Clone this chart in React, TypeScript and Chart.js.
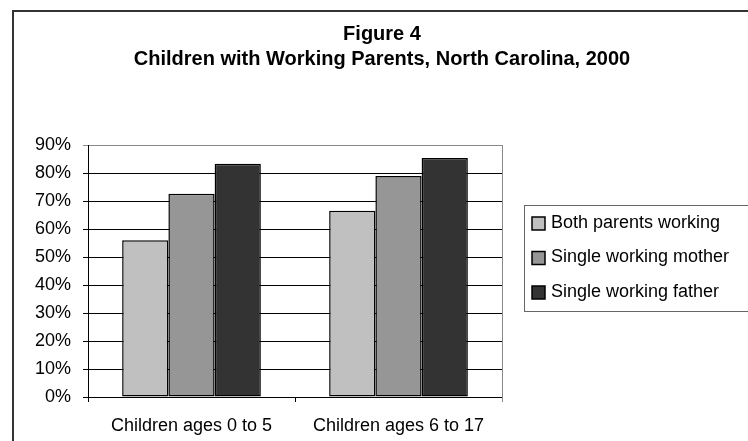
import React, { useEffect, useRef } from 'react';
import { Chart, registerables } from 'chart.js';

Chart.register(...registerables);

const titleLines = ['Figure 4', 'Children with Working Parents, North Carolina, 2000'];
const categories = ['Children ages 0 to 5', 'Children ages 6 to 17'];
const seriesNames = ['Both parents working', 'Single working mother', 'Single working father'];
const bothParents = [56, 66.5];
const singleMother = [72.6, 78.9];
const singleFather = [83.3, 85.4];
const seriesColors = ['#c0c0c0', '#969696', '#333333'];
const yMax = 90;
const yStep = 10;

const FONT = '"Liberation Sans", Arial, Helvetica, sans-serif';

const decorations = {
  id: 'decorations',
  beforeDraw(chart: any) {
    const ctx = chart.ctx;
    ctx.save();
    ctx.fillStyle = '#ffffff';
    ctx.fillRect(0, 0, chart.width, chart.height);
    ctx.strokeStyle = '#333333';
    ctx.lineWidth = 2;
    ctx.strokeRect(13, 11, chart.width + 10, chart.height + 10);
    ctx.restore();
  },
  afterDraw(chart: any) {
    const ctx = chart.ctx;
    const area = chart.chartArea;
    ctx.save();
    // plot area right border
    ctx.strokeStyle = '#8a8a8a';
    ctx.lineWidth = 1;
    ctx.beginPath();
    ctx.moveTo(Math.round(area.right) + 0.5, area.top);
    ctx.lineTo(Math.round(area.right) + 0.5, area.bottom + 5);
    ctx.stroke();

    // title
    ctx.fillStyle = '#000';
    ctx.textAlign = 'center';
    ctx.textBaseline = 'alphabetic';
    ctx.font = `bold 20px ${FONT}`;
    ctx.fillText(titleLines[0], 382, 40);
    ctx.fillText(titleLines[1], 382, 65);

    // legend
    ctx.strokeStyle = '#666666';
    ctx.lineWidth = 1;
    ctx.strokeRect(524.5, 205.5, 240, 106);
    ctx.font = `18px ${FONT}`;
    ctx.textAlign = 'left';
    ctx.textBaseline = 'middle';
    chart.data.datasets.forEach((ds: any, i: number) => {
      const cy = 223 + i * 34.5;
      ctx.fillStyle = ds.backgroundColor;
      ctx.fillRect(532, cy - 6, 13, 13);
      ctx.strokeStyle = '#000';
      ctx.lineWidth = 1.5;
      ctx.strokeRect(532, cy - 6, 13, 13);
      ctx.fillStyle = '#000';
      ctx.fillText(ds.label, 551, cy);
    });
    ctx.restore();
  },
};

export default function App() {
  const ref = useRef<HTMLCanvasElement>(null);
  useEffect(() => {
    if (!ref.current) return;
    const values = [bothParents, singleMother, singleFather];
    const chart = new Chart(ref.current, {
      type: 'bar',
      data: {
        labels: categories,
        datasets: seriesNames.map((name, i) => ({
          label: name,
          data: values[i],
          backgroundColor: seriesColors[i],
          borderColor: '#000000',
          borderWidth: 1.5,
          borderSkipped: false,
          categoryPercentage: 0.67,
          barPercentage: 1.0,
        })),
      },
      options: {
        animation: false,
        responsive: false,
        devicePixelRatio: 1,
        layout: { padding: { top: 145, left: 0, right: 246, bottom: 0 } },
        plugins: {
          legend: { display: false },
          title: { display: false },
          tooltip: { enabled: false },
        },
        scales: {
          x: {
            grid: {
              display: true,
              offset: true,
              drawOnChartArea: false,
              drawTicks: true,
              tickLength: 5,
              color: '#000000',
            },
            border: { color: '#000000', width: 1 },
            ticks: {
              color: '#000000',
              font: { family: FONT, size: 18 },
              padding: 13,
              maxRotation: 0,
              autoSkip: false,
            },
            afterFit: (s: any) => {
              s.height = 44;
            },
          },
          y: {
            min: 0,
            max: yMax,
            ticks: {
              stepSize: yStep,
              color: '#000000',
              font: { family: FONT, size: 18 },
              padding: 12,
              callback: (v: any) => `${v}%`,
            },
            grid: {
              color: (c: any) => (c.tick && c.tick.value === yMax ? '#8a8a8a' : '#000000'),
              tickLength: 5,
              lineWidth: 1,
            },
            border: { color: '#000000', width: 1 },
            afterFit: (s: any) => {
              s.width = 88;
            },
          },
        },
      },
      plugins: [decorations],
    });
    return () => chart.destroy();
  }, []);
  return (
    <div style={{ position: 'absolute', left: 0, top: 0 }}>
      <canvas ref={ref} width={748} height={441} style={{ display: 'block', width: 748, height: 441 }} />
    </div>
  );
}
